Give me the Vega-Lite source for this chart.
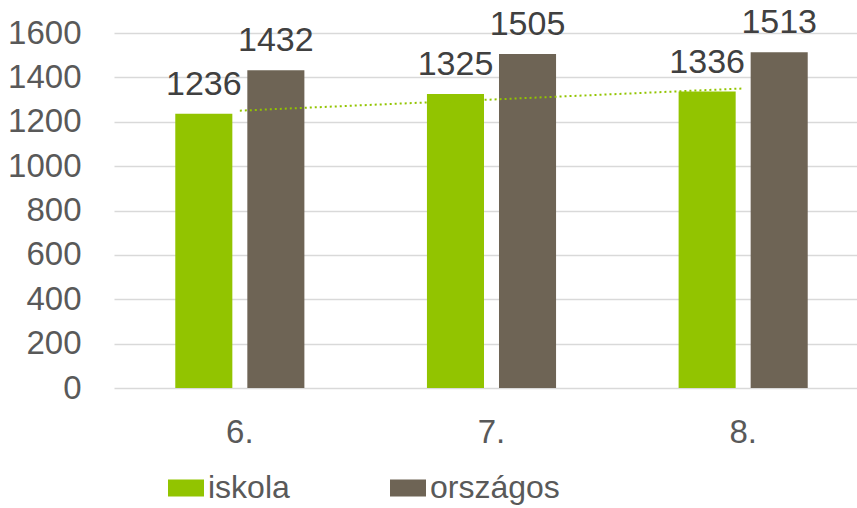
{
  "$schema": "https://vega.github.io/schema/vega-lite/v6.json",
  "width": 755,
  "height": 355,
  "autosize": {"type": "none"},
  "padding": {"left": 114, "top": 33, "right": 0, "bottom": 120},
  "background": "white",
  "config": {"view": {"stroke": null}, "font": "Liberation Sans"},
  "datasets": {
    "bars": [
      {"grade": "6.", "series": "iskola", "value": 1236},
      {"grade": "6.", "series": "országos", "value": 1432},
      {"grade": "7.", "series": "iskola", "value": 1325},
      {"grade": "7.", "series": "országos", "value": 1505},
      {"grade": "8.", "series": "iskola", "value": 1336},
      {"grade": "8.", "series": "országos", "value": 1513}
    ],
    "trend": [
      {"grade": "6.", "value": 1250},
      {"grade": "8.", "value": 1350}
    ]
  },
  "layer": [
    {
      "data": {"name": "bars"},
      "mark": {"type": "bar"},
      "encoding": {
        "x": {"field": "grade", "type": "nominal", "sort": null,
          "scale": {"domain": ["6.", "7.", "8."], "paddingInner": 0.487, "paddingOuter": 0.2435},
          "axis": {"title": null, "labelAngle": 0, "domain": false, "ticks": false, "labelFontSize": 33, "labelColor": "#595959", "labelPadding": 28}},
        "xOffset": {"field": "series", "type": "nominal", "sort": ["iskola", "országos"],
          "scale": {"paddingInner": 0.208, "paddingOuter": 0}},
        "y": {"field": "value", "type": "quantitative",
          "scale": {"domain": [0, 1600]},
          "axis": {"title": null, "format": "d", "values": [0, 200, 400, 600, 800, 1000, 1200, 1400, 1600], "grid": true, "gridColor": "#D9D9D9", "gridWidth": 1.5, "domain": false, "ticks": false, "labelFontSize": 33, "labelColor": "#595959", "labelPadding": 33}},
        "color": {"field": "series", "type": "nominal",
          "scale": {"domain": ["iskola", "országos"], "range": ["#92C400", "#6E6455"]},
          "legend": {"title": null, "orient": "none", "legendX": 54, "legendY": 437, "direction": "horizontal",
            "symbolType": "M-1,-0.47H1V0.47H-1Z", "symbolSize": 1296, "symbolStrokeWidth": 0,
            "labelFontSize": 32, "labelColor": "#595959", "labelOffset": 4, "columnPadding": 100}}
      }
    },
    {
      "data": {"name": "bars"},
      "mark": {"type": "text", "baseline": "bottom", "dy": -12, "fontSize": 34, "color": "#404040"},
      "encoding": {
        "x": {"field": "grade", "type": "nominal", "sort": null},
        "xOffset": {"field": "series", "type": "nominal", "sort": ["iskola", "országos"]},
        "y": {"field": "value", "type": "quantitative"},
        "text": {"field": "value", "type": "quantitative"}
      }
    },
    {
      "data": {"name": "trend"},
      "mark": {"type": "line", "strokeDash": [2, 3], "strokeWidth": 2, "color": "#92C400"},
      "encoding": {
        "x": {"field": "grade", "type": "nominal", "sort": null},
        "y": {"field": "value", "type": "quantitative"}
      }
    }
  ]
}
